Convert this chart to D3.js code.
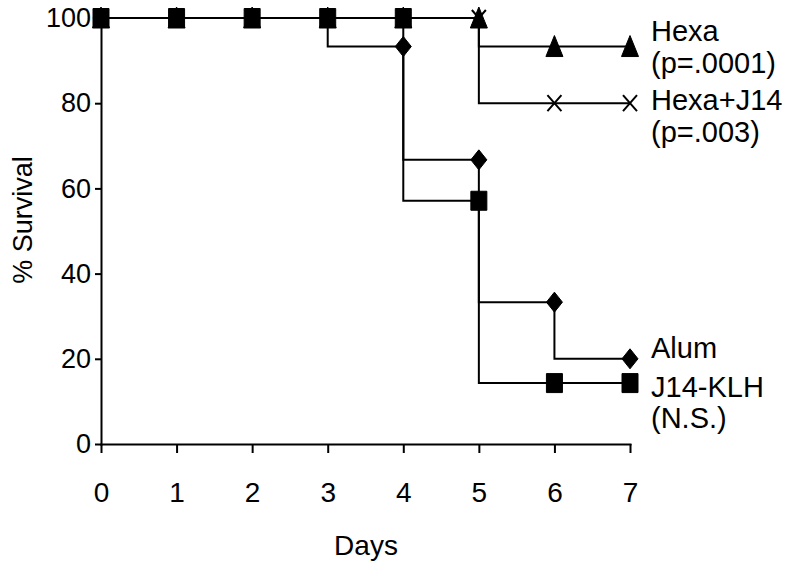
<!DOCTYPE html>
<html>
    <head>
        <title>% Survival</title>
        <script src="https://d3js.org/d3.v7.min.js"></script>
        <style>
            body { margin: 0; background: #fff; }
            text { font-family: "Liberation Sans", Arial, sans-serif; fill: #000; }
        </style>
    </head>
    <body>
        <script>
            const days = [0, 1, 2, 3, 4, 5, 6, 7];
            const hexa = [100, 100, 100, 100, 100, 100, 93.3, 93.3];
            const hexaJ14 = [100, 100, 100, 100, 100, 100, 80, 80];
            const alum = [100, 100, 100, 100, 93.3, 66.7, 33.3, 20];
            const j14klh = [100, 100, 100, 100, 100, 57.1, 14.3, 14.3];
            const yTicks = [0, 20, 40, 60, 80, 100];
            const labels = [
                {text: "Hexa", y: 93.3, dy: -5.5},
                {text: "(p=.0001)", y: 93.3, dy: 26.5},
                {text: "Hexa+J14", y: 80, dy: 7},
                {text: "(p=.003)", y: 80, dy: 39},
                {text: "Alum", y: 20, dy: -1},
                {text: "J14-KLH", y: 14.3, dy: 14},
                {text: "(N.S.)", y: 14.3, dy: 45}
            ];

            const width = 795;
            const height = 566;

            const svg = d3.select("body")
                .append("svg")
                .attr("width", width)
                .attr("height", height);

            const x = d3.scaleLinear().domain([0, 7]).range([101, 630]);
            const y = d3.scaleLinear().domain([0, 100]).range([444, 18]);

            // axes
            const xAxis = svg.append("g")
                .attr("transform", "translate(0," + y(0) + ")")
                .call(d3.axisBottom(x).tickValues(days).tickFormat(d3.format("d"))
                    .tickSize(9).tickSizeOuter(0).tickPadding(29));
            const yAxis = svg.append("g")
                .attr("transform", "translate(" + x(0) + ",0)")
                .call(d3.axisLeft(y).tickValues(yTicks).tickSize(6).tickSizeOuter(0).tickPadding(4));

            [xAxis, yAxis].forEach(function (a) {
                a.selectAll("path, line").attr("stroke", "#000").attr("stroke-width", 2);
                a.selectAll("text").style("font-size", "28px").attr("fill", "#000");
                a.select(".domain").attr("stroke-linecap", "square");
            });
            yAxis.selectAll("text").style("font-size", "27px");

            svg.append("text")
                .attr("x", 366)
                .attr("y", 555)
                .attr("text-anchor", "middle")
                .style("font-size", "28px")
                .text("Days");

            svg.append("text")
                .attr("transform", "translate(32,220) rotate(-90)")
                .attr("text-anchor", "middle")
                .style("font-size", "27px")
                .text("% Survival");

            // survival curves
            const line = d3.line()
                .x(function (d, i) { return x(days[i]); })
                .y(function (d) { return y(d); })
                .curve(d3.curveStepBefore);

            const series = [
                {values: hexa, shape: "triangle"},
                {values: hexaJ14, shape: "cross"},
                {values: alum, shape: "diamond"},
                {values: j14klh, shape: "square"}
            ];

            series.forEach(function (s) {
                svg.append("path")
                    .datum(s.values)
                    .attr("fill", "none")
                    .attr("stroke", "#000")
                    .attr("stroke-width", 2)
                    .attr("d", line);
            });

            function marker(shape) {
                if (shape == "square") return "M-8,-9.5H8V9.5H-8Z";
                if (shape == "diamond") return "M0,-10L8,0L0,10L-8,0Z";
                if (shape == "triangle") return "M0,-11L8.5,10H-8.5Z";
                return "M-7,-8L7,8M-7,8L7,-8";
            }

            series.forEach(function (s) {
                svg.append("g").selectAll("path")
                    .data(s.values)
                    .enter()
                    .append("path")
                    .attr("transform", function (d, i) { return "translate(" + x(days[i]) + "," + y(d) + ")"; })
                    .attr("d", marker(s.shape))
                    .attr("fill", s.shape == "cross" ? "none" : "#000")
                    .attr("stroke", "#000")
                    .attr("stroke-width", s.shape == "cross" ? 2 : 1);
            });

            svg.append("g").selectAll("text")
                .data(labels)
                .enter()
                .append("text")
                .attr("x", 651)
                .attr("y", function (d) { return y(d.y) + d.dy; })
                .style("font-size", "29px")
                .text(function (d) { return d.text; });
        </script>
    </body>
</html>
